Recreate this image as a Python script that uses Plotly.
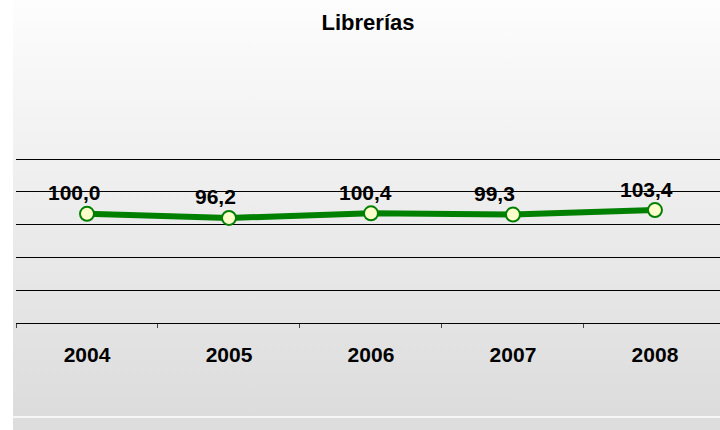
import base64
import plotly.graph_objects as go

years = ["2004", "2005", "2006", "2007", "2008"]
values = [100.0, 96.2, 100.4, 99.3, 103.4]
title_text = "Librerías"

# label placement style (pixel nudges of the data labels, as in the original)
label_dx = [-13, -13, -5, -18, -8]

labels = [f"{v:.1f}".replace(".", ",") for v in values]

W, H = 720, 430
ML, MR, MT, MB = 16, 0, 157, 107
pw = W - ML - MR
ph = H - MT - MB
FONT = "Liberation Sans"


def px_x(px):
    return (px - ML) / pw


def px_y(py):
    return (H - MB - py) / ph


svg = (
    '<svg xmlns="http://www.w3.org/2000/svg" width="100" height="100" preserveAspectRatio="none">'
    '<defs><linearGradient id="g" x1="0" y1="0" x2="0" y2="1">'
    '<stop offset="0" stop-color="#fdfdfd"/><stop offset="1" stop-color="#dcdcdc"/>'
    '</linearGradient></defs><rect width="100" height="100" fill="url(#g)"/></svg>'
)
src = "data:image/svg+xml;base64," + base64.b64encode(svg.encode()).decode()

fig = go.Figure()
fig.add_trace(go.Scatter(
    x=years, y=values, mode="lines+markers",
    line=dict(color="#008000", width=6),
    marker=dict(size=14, color="#ffffcc", line=dict(color="#008000", width=2)),
    hoverinfo="skip", cliponaxis=False,
))

annotations = [
    dict(x=i, y=v, xref="x", yref="y", text="<b>" + t + "</b>", showarrow=False,
         xanchor="center", yanchor="middle", xshift=dx, yshift=21,
         font=dict(family=FONT, size=21, color="black"))
    for i, (v, t, dx) in enumerate(zip(values, labels, label_dx))
]

fig.update_layout(
    width=W, height=H,
    margin=dict(l=ML, r=MR, t=MT, b=MB),
    paper_bgcolor="white", plot_bgcolor="rgba(0,0,0,0)",
    showlegend=False,
    title=dict(text="<b>" + title_text + "</b>", x=0.5, xref="paper", xanchor="center",
               y=1 - 22 / H, yanchor="middle",
               font=dict(family=FONT, size=22, color="black")),
    images=[dict(source=src, xref="paper", yref="paper", x=px_x(13), y=px_y(0),
                 sizex=px_x(720) - px_x(13), sizey=px_y(0) - px_y(417),
                 xanchor="left", yanchor="top", sizing="stretch", layer="below")],
    shapes=[
        dict(type="rect", xref="paper", yref="paper", x0=px_x(13), x1=px_x(720),
             y0=px_y(417), y1=px_y(431), fillcolor="#dddddd", line=dict(width=0), layer="below"),
        dict(type="line", xref="paper", yref="paper", x0=px_x(13), x1=px_x(720),
             y0=px_y(417), y1=px_y(417), line=dict(color="white", width=1.5), layer="below"),
    ],
    annotations=annotations,
)

fig.update_xaxes(
    type="category", range=[-0.5, 4.458], tickson="boundaries",
    ticks="outside", ticklen=4, tickcolor="#444444",
    showline=True, linecolor="black", linewidth=1, showgrid=False,
    tickfont=dict(family=FONT, size=21, color="black", weight="bold"),
    ticklabelstandoff=13, fixedrange=True,
)
fig.update_yaxes(
    range=[0, 152], tickvals=[30, 60, 90, 120, 150], showticklabels=False, showgrid=True,
    gridcolor="black", gridwidth=1, zeroline=False, showline=False, fixedrange=True,
)

fig.write_html("out.html", post_script="document.body.style.margin='0';",
               config={"displayModeBar": False})
